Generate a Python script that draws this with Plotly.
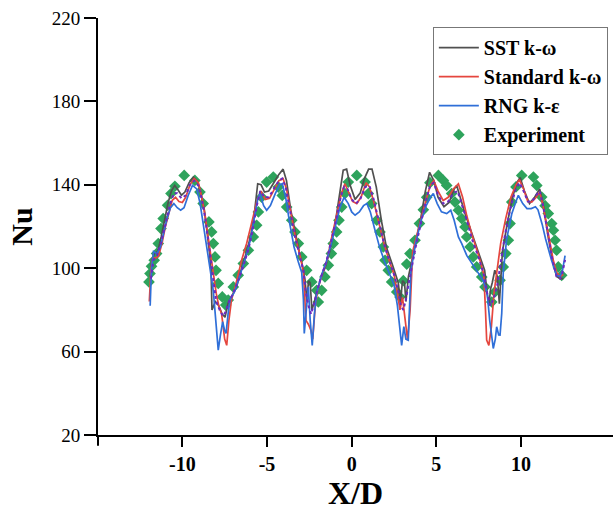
import plotly.graph_objects as go

# ---------------- data (X/D, Nu) ----------------
sst_x = [-11.9, -11.8, -11.65, -11.45, -11.25, -11.05, -10.85, -10.65, -10.45, -10.25, -10.05, -9.85, -9.6, -9.35,
         -9.1, -8.9, -8.7, -8.55, -8.4, -8.3, -8.25, -8.05, -7.85, -7.65, -7.48, -7.3, -7.1, -6.8, -6.5, -6.2,
         -5.95, -5.75, -5.55, -5.35, -5.15, -4.9, -4.6, -4.3, -4.05, -3.85, -3.6, -3.35, -3.1, -2.9, -2.75,
         -2.65, -2.55, -2.45, -2.35, -2.2, -2.0, -1.8, -1.58, -1.3, -1.0, -0.8, -0.65, -0.5, -0.3, -0.1, 0.2,
         0.5, 0.75, 1.0, 1.2, 1.45, 1.75, 2.05, 2.45, 2.75, 2.88, 3.0, 3.12, 3.2, 3.35, 3.55, 3.8, 4.1, 4.35,
         4.6, 4.85, 5.1, 5.45, 5.75, 6.05, 6.2, 6.45, 6.7, 7.1, 7.5, 7.85, 8.0, 8.1, 8.2, 8.3, 8.45, 8.6, 8.72,
         8.9, 9.2, 9.5, 9.75, 9.95, 10.2, 10.5, 10.8, 11.1, 11.3, 11.6, 11.9, 12.1, 12.3, 12.5]
sst_y = [96, 104, 107, 108, 115, 124, 131, 137, 139.7, 137.5, 135, 136.5, 141, 143.7,
         141.5, 136, 128, 118, 108, 98, 80, 84, 82, 78, 76.5, 83, 86, 91, 100, 108,
         116, 126, 140.5, 140, 136.5, 137, 141, 145, 147.5, 142, 128, 117, 108, 101, 94,
         84, 94, 93, 80, 84, 90, 96, 100, 108, 120, 131, 141, 147, 147.5, 140, 133,
         136, 143, 147.5, 147.5, 139, 123, 110, 100.6, 93, 84, 94, 93, 84, 96, 103, 113, 125, 137,
         146, 142, 134, 129.5, 131.5, 138, 139.7, 133, 126, 116.6, 107, 99, 88, 82, 90, 93, 99, 96, 83,
         108, 122, 134, 141, 143.5, 137, 131, 134, 138, 131, 115, 102, 96, 95, 95]

std_x = [-11.95, -11.85, -11.75, -11.55, -11.4, -11.2, -11.0, -10.8, -10.6, -10.4, -10.2, -10.0, -9.8, -9.55,
         -9.3, -9.05, -8.85, -8.65, -8.45, -8.3, -8.15, -8.0, -7.85, -7.68, -7.5, -7.38, -7.25, -7.1, -6.85,
         -6.5, -6.2, -5.9, -5.6, -5.35, -5.1, -4.85, -4.55, -4.3, -4.05, -3.85, -3.6, -3.35, -3.05, -2.85,
         -2.7, -2.55, -2.4, -2.3, -2.15, -2.0, -1.75, -1.45, -1.15, -0.85, -0.6, -0.4, -0.2, 0.05, 0.3, 0.55,
         0.85, 1.05, 1.3, 1.6, 1.9, 2.2, 2.5, 2.7, 2.85, 3.0, 3.15, 3.3, 3.45, 3.6, 3.85, 4.1, 4.4, 4.65,
         4.85, 5.1, 5.4, 5.7, 6.0, 6.3, 6.55, 6.8, 7.1, 7.5, 7.8, 7.9, 7.97, 8.1, 8.25, 8.4, 8.55, 8.8, 9.1,
         9.4, 9.7, 9.9, 10.15, 10.4, 10.63, 10.9, 11.1, 11.3, 11.6, 11.9, 12.1, 12.3, 12.5]
std_y = [84, 100, 105, 105, 106, 112, 120, 127, 132.5, 134, 132, 131.5, 134, 140,
         143, 141, 134, 125, 114, 105, 96, 88, 82, 78, 66, 63, 75, 84.7, 92,
         103.8, 112, 122, 132, 137, 133, 133.5, 138, 142, 142.9, 138, 127, 116, 106, 98,
         75, 73, 70, 66, 82, 90, 97, 104, 116, 127, 136, 140.5, 137, 132, 131, 134,
         141, 139, 132, 122, 112, 104, 97, 88, 80, 86, 75, 65.5, 80, 108, 116, 124, 133, 140,
         142, 137, 132.5, 134, 138, 140.5, 134, 125, 116, 106, 97, 80, 65.5, 63, 72, 88, 98, 112, 124,
         134, 140, 142.5, 138, 132, 131.7, 134, 136.5, 130, 117, 104, 98, 96, 97]

rng_x = [-11.9, -11.82, -11.7, -11.5, -11.3, -11.1, -10.9, -10.7, -10.5, -10.3, -10.1, -9.9, -9.65, -9.4,
         -9.15, -8.95, -8.75, -8.55, -8.35, -8.17, -8.0, -7.88, -7.75, -7.62, -7.5, -7.42, -7.3, -7.19, -6.9,
         -6.6, -6.3, -6.0, -5.75, -5.55, -5.42, -5.2, -5.02, -4.8, -4.5, -4.25, -4.1, -3.9, -3.65, -3.4,
         -3.15, -2.95, -2.85, -2.8, -2.68, -2.56, -2.45, -2.33, -2.2, -2.07, -1.77, -1.5, -1.2, -0.95, -0.7,
         -0.45, -0.2, 0.0, 0.2, 0.45, 0.7, 0.9, 1.1, 1.35, 1.65, 1.95, 2.25, 2.5, 2.7, 2.85, 2.95, 3.08,
         3.2, 3.34, 3.42, 3.5, 3.75, 4.1, 4.4, 4.65, 4.82, 5.05, 5.3, 5.61, 5.85, 6.05, 6.3, 6.5, 6.8, 7.1,
         7.45, 7.77, 8.0, 8.15, 8.36, 8.48, 8.56, 8.68, 8.76, 8.86, 8.95, 9.15, 9.45, 9.7, 9.84, 10.1,
         10.35, 10.6, 10.85, 11.0, 11.25, 11.45, 11.8, 12.1, 12.3, 12.45, 12.6]
rng_y = [82, 100, 108, 107, 110, 117, 124, 129, 131, 129, 127.8, 129, 135, 139.7,
         138, 131, 121, 110, 99, 89, 74, 60.7, 68, 74.3, 70, 68.7, 78, 84.7, 89,
         96, 104, 113, 124, 133, 135.8, 130, 127.8, 130, 136, 140, 140.5, 134, 121, 110,
         103, 98, 85, 68.7, 80, 91, 75, 63, 78, 88, 97, 103, 112, 121, 129,
         134, 131, 127, 125.4, 127, 130, 131, 127, 119, 110, 103, 97, 92, 82, 70, 63, 72,
         66, 65.5, 85, 99, 111, 123, 130, 134, 135.8, 131, 127, 126.2, 127.8, 123, 115, 111.8, 106, 102,
         98, 94, 88, 75, 61.5, 66, 71.9, 68, 67.9, 78.3, 98, 114, 126, 132, 134.9, 131,
         128.6, 128.6, 129.5, 128, 121, 114, 103.8, 96.6, 96, 99, 106]

# unlabelled dotted series
aux_x = [-11.85, -11.7, -11.5, -11.3, -11.0, -10.75, -10.5, -10.3, -10.05, -9.8, -9.55, -9.3, -9.05, -8.85,
         -8.65, -8.45, -8.3, -8.15, -8.0, -7.8, -7.6, -7.45, -7.25, -7.0, -6.7, -6.4, -6.1, -5.85, -5.6,
         -5.4, -5.15, -4.9, -4.6, -4.3, -4.1, -3.9, -3.65, -3.4, -3.1, -2.85, -2.7, -2.55, -2.4, -2.25,
         -2.05, -1.8, -1.5, -1.2, -0.9, -0.65, -0.45, -0.25, 0.0, 0.25, 0.5, 0.8, 1.05, 1.3, 1.6, 1.9, 2.2,
         2.5, 2.75, 2.9, 3.05, 3.2, 3.35, 3.55, 3.8, 4.1, 4.4, 4.65, 4.85, 5.1, 5.4, 5.7, 6.0, 6.25, 6.5,
         6.8, 7.1, 7.5, 7.8, 8.0, 8.2, 8.4, 8.6, 8.8, 9.05, 9.35, 9.65, 9.9, 10.15, 10.4, 10.65, 10.9,
         11.1, 11.3, 11.55, 11.85, 12.1, 12.3, 12.45, 12.6]
aux_y = [95, 104, 106, 111, 121, 130, 136, 136, 133.5, 135, 140, 142, 139.5, 133,
         124, 113, 103, 93, 84, 80, 77, 79, 84, 88, 94, 101, 109, 118, 130,
         137, 134, 134, 138, 142, 143, 139, 128, 117, 107, 99, 88, 82, 78, 82,
         89, 96, 103, 113, 124, 134, 139, 138, 133, 131, 133, 139, 139.5, 133, 122, 112, 104,
         97, 89, 82, 80, 85, 92, 101, 111, 122, 133, 140, 141, 135, 131, 132, 136, 137, 131,
         123, 114, 105, 97, 88, 82, 86, 92, 102, 116, 128, 137, 141, 137, 132, 132, 135,
         137, 130, 118, 104, 96, 95, 98, 104]

exp_x = [-11.97, -11.91, -11.82, -11.66, -11.52, -11.42, -11.26, -11.13, -10.87, -10.67, -10.44, -9.89, -9.26,
         -8.96, -8.77, -8.43, -8.27, -8.17, -8.07, -8.01, -7.88, -7.64, -7.44, -7.29, -6.99, -6.7, -6.4,
         -6.1, -5.81, -5.61, -5.51, -5.32, -5.02, -4.63, -4.33, -4.1, -3.84, -3.54, -3.35, -3.15, -2.95,
         -2.66, -2.36, -2.07, -1.97, -1.77, -1.58, -1.38, -1.2, -1.09, -0.89, -0.75, -0.59, -0.4, -0.2, 0.3,
         0.79, 0.98, 1.18, 1.48, 1.67, 1.87, 1.97, 2.16, 2.36, 2.66, 2.85, 3.05, 3.25, 3.44, 3.74, 4.0,
         4.23, 4.43, 4.62, 5.12, 5.41, 5.61, 5.9, 6.1, 6.3, 6.5, 6.69, 6.79, 6.99, 7.18, 7.38, 7.68, 7.87,
         8.27, 8.46, 8.76, 8.95, 9.1, 9.25, 9.35, 9.45, 9.7, 10.04, 10.73, 10.93, 11.22, 11.42, 11.61,
         11.81, 11.91, 12.01, 12.1, 12.2, 12.4]
exp_y = [93.4, 97.4, 100.9, 103.8, 107, 111.8, 119, 123.8, 130.2, 135.8, 139.3, 144.5, 142.1,
         136.5, 131, 122.2, 117.4, 111.8, 105.4, 99, 92.7, 86.2, 82.3, 84.7, 91, 96.6, 102.2,
         108.6, 115, 120.6, 127, 134.1, 141.3, 143.7, 138.9, 134.9, 129.3, 123, 117.4, 111.8, 105.4,
         99, 93.4, 89.4, 83.8, 89.4, 95.8, 101.4, 107, 111.8, 117.4, 123, 129.3, 135.8, 141.3, 144.5,
         141.3, 135.8, 131, 123, 117.4, 110.2, 103.8, 99, 93.4, 88.6, 86.2, 94, 102, 107, 113.4, 121.4,
         128, 134, 141, 144.5, 142.1, 139.7, 135.8, 131.7, 127.8, 123.8, 119.8, 115, 110.2, 105.4, 100.6, 95.8, 91,
         83.8, 88.6, 94.2, 100.6, 107, 113.4, 121.4, 131.7, 139, 144.5, 143.7, 139.7, 134.1, 130, 126.2,
         121.4, 118.2, 113.4, 108.6, 100.6, 96.6]

y_ticks = [20, 60, 100, 140, 180, 220]
x_ticks = [-10, -5, 0, 5, 10]
x_tick_labels = ["-10", "-5", "0", "5", "10"]

SERIF = "Liberation Serif, Times New Roman, serif"

fig = go.Figure()
fig.add_trace(go.Scatter(x=exp_x, y=exp_y, mode="markers", name="Experiment", legendrank=4,
                         marker=dict(symbol="diamond", size=9, color="#2ea35c")))
fig.add_trace(go.Scatter(x=sst_x, y=sst_y, mode="lines", name="SST k-ω", legendrank=1,
                         line=dict(color="#505050", width=1.7)))
fig.add_trace(go.Scatter(x=std_x, y=std_y, mode="lines", name="Standard k-ω", legendrank=2,
                         line=dict(color="#e5463e", width=1.7)))
fig.add_trace(go.Scatter(x=rng_x, y=rng_y, mode="lines", name="RNG k-ε", legendrank=3,
                         line=dict(color="#2f6fd8", width=1.7)))
fig.add_trace(go.Scatter(x=aux_x, y=aux_y, mode="lines", showlegend=False,
                         line=dict(color="#6a2bc0", width=2, dash="dot")))

axis_common = dict(showgrid=False, zeroline=False, showline=True, linecolor="black", linewidth=2,
                   ticks="outside", tickcolor="black", tickwidth=2, mirror=False)

fig.update_layout(
    width=613, height=511,
    margin=dict(l=98, r=0, t=18, b=76),
    paper_bgcolor="white", plot_bgcolor="white",
    font=dict(family=SERIF, color="black"),
    xaxis=dict(range=[-14.98, 15.43], tickvals=x_ticks, ticktext=x_tick_labels, ticklen=10,
               tickfont=dict(family=SERIF, size=20, color="black", weight="bold"),
               title=dict(text="<b>X/D</b>", font=dict(family=SERIF, size=32), standoff=8),
               **axis_common),
    yaxis=dict(range=[20, 220], tickvals=y_ticks, ticklen=12,
               tickfont=dict(family=SERIF, size=19, color="black"),
               title=dict(text="<b>Nu</b>", font=dict(family=SERIF, size=30), standoff=10),
               **axis_common),
    legend=dict(x=0.99, xanchor="right", y=0.978, yanchor="top",
                bgcolor="white", bordercolor="#777777", borderwidth=1,
                font=dict(family=SERIF, size=20, color="black", weight="bold"),
                tracegroupgap=0, itemwidth=40),
    showlegend=True,
)

# small overshoot of the axes past their crossing point
fig.add_shape(type="line", xref="paper", yref="paper", x0=0, x1=0, y0=0, y1=-0.026,
              line=dict(color="black", width=2))
fig.add_shape(type="line", xref="paper", yref="paper", x0=-0.004, x1=0, y0=0, y1=0,
              line=dict(color="black", width=2))

fig.write_html("out.html")
